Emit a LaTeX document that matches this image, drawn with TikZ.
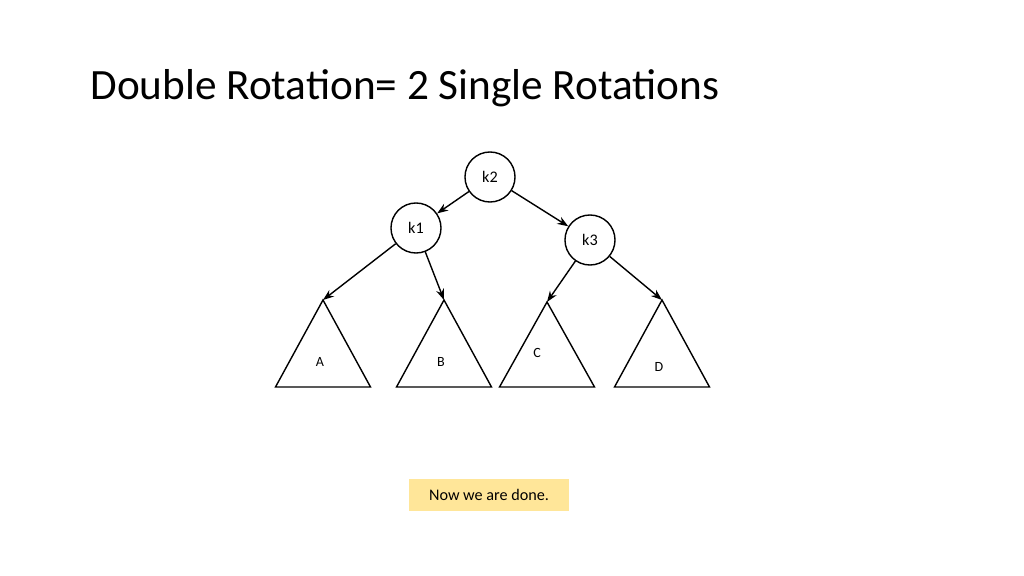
\documentclass[tikz,border=0pt]{standalone}
\usepackage{fontspec}
\setmainfont{Carlito}
\usetikzlibrary{arrows.meta}
\usetikzlibrary{positioning}
\tikzset{tree node/.style={draw,circle,minimum size=0.5cm,inner sep=0pt,font=\fontsize{4.6}{5}\selectfont}}
\tikzset{edge/.style={draw,thin,-{Stealth[length=1.1mm,width=0.8mm]}}}
\tikzset{subtree/.style={draw,thin}}
\tikzset{leaf label/.style={font=\fontsize{4}{5}\selectfont}}
\begin{document}
\begin{tikzpicture}[x=0.01cm,y=-0.01cm]
    \useasboundingbox (0,0) rectangle (1024,576);

    % title
    \node [anchor=base west,font=\fontsize{12.3}{14}\selectfont] (title) at (78,100) {Double Rotation= 2 Single Rotations};

    % vertices
    \node [tree node] (k2) at (490,177) {k2};
    \node [tree node] (k1) at (416,228) {k1};
    \node [tree node] (k3) at (590,240) {k3};

    % subtrees
    \foreach \n/\x/\t/\lx/\ly in {A/323/300/320/362, B/444/300/441/362, C/547/302/537/353, D/662/300/659/367}
    {
    \coordinate (T\n) at (\x,\t);
    \path [subtree] (T\n) -- (\x-47.5,387) -- (\x+47.5,387) -- cycle;
    \node [leaf label] (L\n) at (\lx,\ly) {\n};
    }

    % edges
    \path [edge] (k2) -- (k1);
    \path [edge] (k2) -- (k3);
    \path [edge] (k1) -- (TA);
    \path [edge] (k1) -- (TB);
    \path [edge] (k3) -- (TC);
    \path [edge] (k3) -- (TD);

    \node [fill={rgb,255:red,255;green,230;blue,153},minimum width=1.6cm,minimum height=0.31cm,inner sep=0pt,font=\fontsize{4.6}{5}\selectfont] (note) at (489,495) {Now we are done.};
\end{tikzpicture}
\end{document}
